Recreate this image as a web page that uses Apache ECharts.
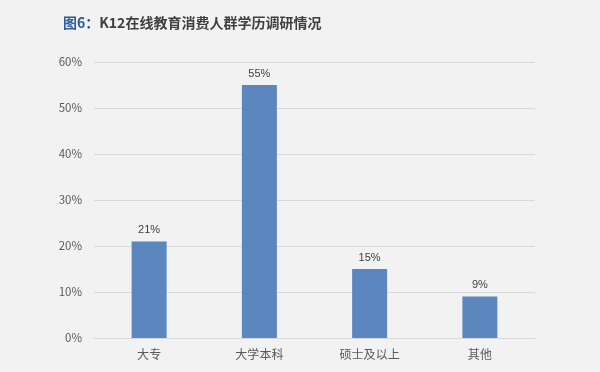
<!DOCTYPE html>
<html><head><meta charset="utf-8">
<script src="https://cdn.jsdelivr.net/npm/echarts@6/dist/echarts.min.js"></script>
<style>html,body{margin:0;padding:0;background:#f2f2f2;}#c{width:600px;height:372px;}</style>
</head><body><div id="c"></div>
<script>
const categories = ['大专', '大学本科', '硕士及以上', '其他'];
const values = [21, 55, 15, 9];
const yTicks = [0, 10, 20, 30, 40, 50, 60];
const chart = echarts.init(document.getElementById('c'));
chart.setOption({
  backgroundColor: '#f2f2f2',
  animation: false,
  title: {
    text: '{a|图6：}{b|K12在线教育消费人群学历调研情况}',
    left: 58, top: 11,
    textStyle: {
      rich: {
        a: {color: '#2e5c9a', fontSize: 14, fontWeight: 'bold', fontFamily: 'Noto Sans CJK SC'},
        b: {color: '#404040', fontSize: 14, fontWeight: 'bold', fontFamily: 'Noto Sans CJK SC'}
      }
    }
  },
  grid: {left: 94, right: 65, top: 62, bottom: 34},
  xAxis: {
    type: 'category', data: categories,
    axisLine: {lineStyle: {color: '#d9d9d9'}},
    axisTick: {show: false},
    axisLabel: {color: '#595959', fontSize: 12, margin: 10, fontFamily: 'Noto Sans CJK SC'}
  },
  yAxis: {
    type: 'value', min: yTicks[0], max: yTicks[yTicks.length - 1], interval: 10,
    axisLine: {show: false}, axisTick: {show: false},
    splitLine: {lineStyle: {color: '#d9d9d9'}},
    axisLabel: {color: '#595959', fontSize: 11.5, margin: 12, formatter: '{value}%', fontFamily: 'Noto Sans CJK SC'}
  },
  series: [{
    type: 'bar', data: values, barWidth: 35,
    itemStyle: {color: '#5b87be'},
    label: {show: true, position: 'top', formatter: '{c}%', color: '#404040', fontSize: 11, distance: 6}
  }]
});
</script></body></html>
